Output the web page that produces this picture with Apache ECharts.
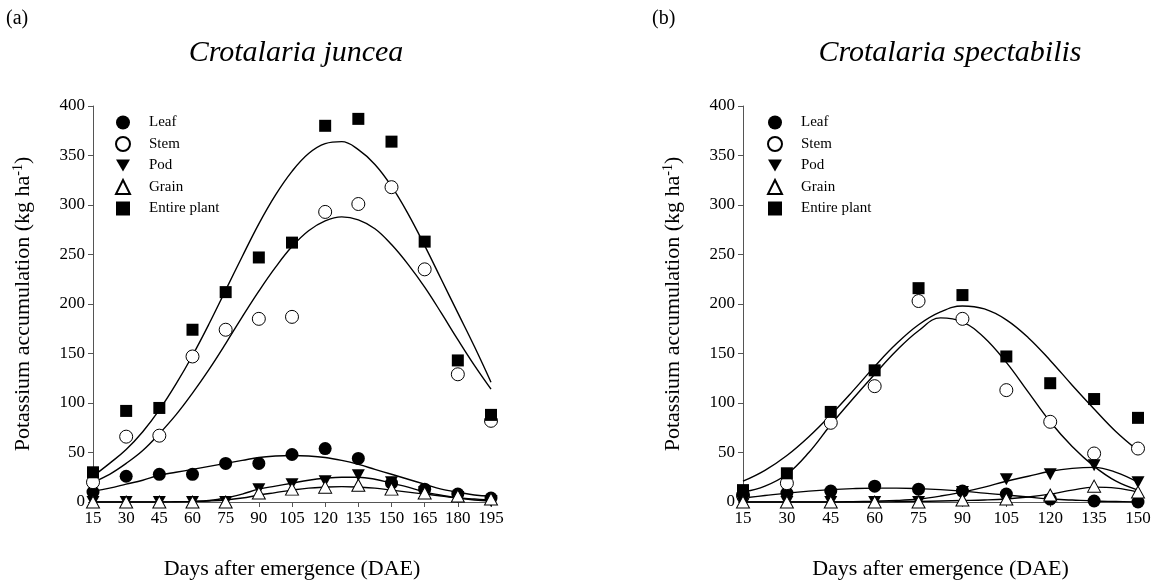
<!DOCTYPE html>
<html>
<head>
<meta charset="utf-8">
<script src="https://cdn.jsdelivr.net/npm/echarts@6/dist/echarts.min.js"></script>
<style>
  html, body { margin: 0; padding: 0; background: #fff; }
  #chart { width: 1160px; height: 585px; }
</style>
</head>
<body>
<div id="chart"></div>
<script>
// (a) Crotalaria juncea - observed points
const daysA = [15, 30, 45, 60, 75, 90, 105, 120, 135, 150, 165, 180, 195];
const leafA = [10, 26, 28, 28, 39, 39, 48, 54, 44, 19, 13, 8, 4];
const stemA = [20, 66, 67, 147, 174, 185, 187, 293, 301, 318, 235, 129, 82];
const podA = [0, 0, 0, 0, 0, 13, 18, 21, 27, 20, 10, 5, 1];
const grainA = [0, 0, 0, 0, 0, 9, 13, 15, 17, 13, 9, 6, 3];
const entireA = [30, 92, 95, 174, 212, 247, 262, 380, 387, 364, 263, 143, 88];

// (a) fitted curves, read every 7.5 DAE
const fitDaysA = [15, 22.5, 30, 37.5, 45, 52.5, 60, 67.5, 75, 82.5, 90, 97.5, 105, 112.5, 120, 127.5, 135, 142.5, 150, 157.5, 165, 172.5, 180, 187.5, 195];
const fitLeafA = [11, 14, 18, 22, 27, 30, 33, 36, 39, 42, 45, 46.5, 47, 46.5, 45, 42, 38, 33, 28, 23, 18, 13, 10, 7, 6];
const fitStemA = [20, 28, 39, 52, 69, 88, 110, 134, 160, 187, 213, 237, 258, 274, 284, 288, 285, 276, 260, 240, 217, 191, 164, 138, 114];
const fitPodA = [0, 0, 0, 0, 0, 0.3, 0.6, 1.5, 4, 8, 13, 16, 19, 22, 24, 25, 25, 23, 19, 15, 10, 7, 4, 2, 1];
const fitGrainA = [0, 0, 0, 0, 0, 0.2, 0.5, 1, 2, 4, 7, 9.5, 12, 14, 15, 15.5, 15, 14, 12, 10, 8, 6, 4, 3, 2];
const fitEntireA = [26, 39, 53, 71, 93, 119, 148, 180, 214, 248, 281, 310, 334, 352, 362, 364, 356, 341, 319, 291, 259, 225, 191, 157, 121];

// (b) Crotalaria spectabilis - observed points
const daysB = [15, 30, 45, 60, 75, 90, 105, 120, 135, 150];
const leafB = [5, 9, 11, 16, 13, 11, 8, 3, 1, 0];
const stemB = [7, 19, 80, 117, 203, 185, 113, 81, 49, 54];
const podB = [0, 0, 0, 0, 0, 10, 23, 28, 37, 20];
const grainB = [0, 0, 0, 0, 0, 2, 3, 7, 16, 10];
const entireB = [12, 29, 91, 133, 216, 209, 147, 120, 104, 85];

// (b) fitted curves, read every 7.5 DAE
const fitDaysB = [15, 22.5, 30, 37.5, 45, 52.5, 60, 67.5, 75, 82.5, 90, 97.5, 105, 112.5, 120, 127.5, 135, 142.5, 150];
const fitLeafB = [4, 6.5, 9, 11, 12.5, 13.5, 14, 14, 13.5, 12.5, 11, 9, 7, 5, 3, 2, 1, 0.5, 0];
const fitStemB = [10, 16, 28, 50, 78, 104, 129, 153, 173, 186, 182, 166, 141, 111, 81, 56, 36, 21, 12];
const fitPodB = [0, 0, 0, 0, 0, 0.3, 0.8, 1.5, 3, 6, 10, 15, 21, 26, 31, 34, 35, 30, 20];
const fitGrainB = [0, 0, 0, 0, 0, 0, 0, 0.3, 0.6, 1, 1.5, 2, 3, 5, 8, 12, 15, 14, 10];
const fitEntireB = [21, 32, 47, 66, 88, 112, 137, 160, 179, 192, 198, 195, 184, 166, 143, 118, 94, 71, 52];

const seriesNames = ['Leaf', 'Stem', 'Pod', 'Grain', 'Entire plant'];

const font = 'Liberation Serif, Times New Roman, serif';
const downTri = 'path://M0,0 L10,0 L5,8.66 Z';

const styles = {
    'Leaf': { symbol: 'circle', symbolSize: 13, itemStyle: { color: '#000', opacity: 1 } },
    'Stem': { symbol: 'circle', symbolSize: 13, itemStyle: { color: '#fff', borderColor: '#000', borderWidth: 1, opacity: 1 } },
    'Pod': { symbol: downTri, symbolSize: [13, 12], itemStyle: { color: '#000', opacity: 1 } },
    'Grain': { symbol: 'triangle', symbolSize: [13, 12], itemStyle: { color: '#fff', borderColor: '#000', borderWidth: 1, opacity: 1 } },
    'Entire plant': { symbol: 'rect', symbolSize: 12, itemStyle: { color: '#000', opacity: 1 } }
};

function zip(xs, ys) {
    return xs.map((x, i) => [x, ys[i]]);
}

function pointSeries(name, idx, xs, ys) {
    return Object.assign({
        name: name,
        type: 'scatter',
        xAxisIndex: idx,
        yAxisIndex: idx,
        z: 5,
        data: zip(xs, ys)
    }, styles[name]);
}

function fitSeries(name, idx, xs, ys) {
    return {
        name: name + ' fit ' + idx,
        type: 'line',
        xAxisIndex: idx,
        yAxisIndex: idx,
        smooth: 0.4,
        showSymbol: false,
        z: 2,
        lineStyle: { color: '#000', width: 1.4 },
        data: zip(xs, ys)
    };
}

const pointsA = [leafA, stemA, podA, grainA, entireA];
const fitsA = [fitLeafA, fitStemA, fitPodA, fitGrainA, fitEntireA];
const pointsB = [leafB, stemB, podB, grainB, entireB];
const fitsB = [fitLeafB, fitStemB, fitPodB, fitGrainB, fitEntireB];

let series = [];
seriesNames.forEach((n, i) => {
    series.push(fitSeries(n, 0, fitDaysA, fitsA[i]));
    series.push(fitSeries(n, 1, fitDaysB, fitsB[i]));
});
seriesNames.forEach((n, i) => {
    series.push(pointSeries(n, 0, daysA, pointsA[i]));
    series.push(pointSeries(n, 1, daysB, pointsB[i]));
});

function xAxis(idx, max) {
    return {
        type: 'value',
        gridIndex: idx,
        min: 15,
        max: max,
        interval: 15,
        name: 'Days after emergence (DAE)',
        nameLocation: 'middle',
        nameGap: 56,
        nameTextStyle: { fontFamily: font, fontSize: 22, color: '#000' },
        axisLine: { show: true, onZero: false, lineStyle: { color: '#555', width: 1 } },
        axisTick: { show: true, length: 5, lineStyle: { color: '#555' } },
        axisLabel: { fontFamily: font, fontSize: 17, color: '#000', margin: 8 },
        splitLine: { show: false }
    };
}

function yAxis(idx) {
    return {
        type: 'value',
        gridIndex: idx,
        min: 0,
        max: 400,
        interval: 50,
        name: 'Potassium accumulation (kg ha{sup|-1})',
        nameLocation: 'middle',
        nameGap: 57,
        nameTextStyle: {
            fontFamily: font, fontSize: 22, color: '#000',
            rich: { sup: { fontFamily: font, fontSize: 14, color: '#000', verticalAlign: 'bottom', padding: [0, 0, 11, 0] } }
        },
        axisLine: { show: true, lineStyle: { color: '#555', width: 1 } },
        axisTick: { show: true, length: 5, lineStyle: { color: '#555' } },
        axisLabel: { fontFamily: font, fontSize: 17, color: '#000', margin: 8 },
        splitLine: { show: false }
    };
}

function legend(left) {
    return {
        data: seriesNames,
        orient: 'vertical',
        left: left,
        top: 110,
        itemWidth: 14,
        itemHeight: 14,
        itemGap: 6,
        selectedMode: false,
        textStyle: { fontFamily: font, fontSize: 15, color: '#000', padding: [0, 0, 0, 14] }
    };
}

const option = {
    animation: false,
    backgroundColor: '#fff',
    title: [
        { text: '(a)', left: 1, top: 4, textStyle: { fontFamily: font, fontSize: 20, fontWeight: 'normal', color: '#000' } },
        { text: '(b)', left: 647, top: 4, textStyle: { fontFamily: font, fontSize: 20, fontWeight: 'normal', color: '#000' } },
        { text: 'Crotalaria juncea', left: 291, top: 33, textAlign: 'center', textStyle: { fontFamily: font, fontSize: 30, fontStyle: 'italic', fontWeight: 'normal', color: '#000' } },
        { text: 'Crotalaria spectabilis', left: 945, top: 33, textAlign: 'center', textStyle: { fontFamily: font, fontSize: 30, fontStyle: 'italic', fontWeight: 'normal', color: '#000' } }
    ],
    legend: [legend(110), legend(762)],
    grid: [
        { left: 93, top: 106, width: 398, height: 400 },
        { left: 743, top: 106, width: 395, height: 400 }
    ],
    xAxis: [xAxis(0, 195), xAxis(1, 150)],
    yAxis: [yAxis(0), yAxis(1)],
    series: series
};

const chart = echarts.init(document.getElementById('chart'));
chart.setOption(option);
</script>
</body>
</html>
